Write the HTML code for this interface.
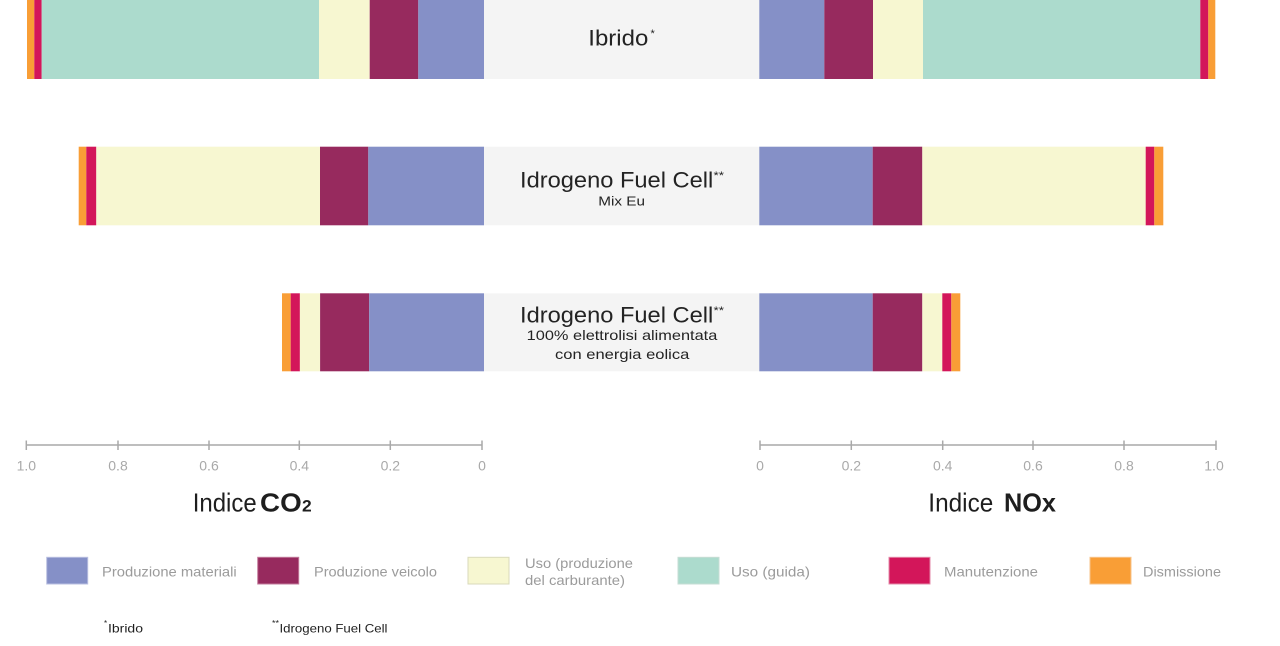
<!DOCTYPE html>
<html>
<head>
<meta charset="utf-8">
<style>
  html, body { margin:0; padding:0; background:#ffffff; }
  body { width:1280px; height:646px; overflow:hidden; }
  svg { display:block; }
  text { font-family: "Liberation Sans", "DejaVu Sans", sans-serif; }
</style>
</head>
<body>
<svg width="1280" height="646" viewBox="0 0 1280 646" xmlns="http://www.w3.org/2000/svg">
  <rect x="0" y="0" width="1280" height="646" fill="#ffffff"/>

  <!-- ===== Bar 1: Ibrido ===== -->
  <g>
    <rect x="484" y="0" width="275.5" height="79" fill="#f4f4f4"/>
    <!-- left -->
    <rect x="27" y="0" width="7.3" height="79" fill="#f99e36"/>
    <rect x="34.3" y="0" width="7.4" height="79" fill="#d3165a"/>
    <rect x="41.7" y="0" width="277.3" height="79" fill="#acdbcd"/>
    <rect x="319" y="0" width="50.7" height="79" fill="#f7f7d1"/>
    <rect x="369.7" y="0" width="48.6" height="79" fill="#972a5e"/>
    <rect x="418.3" y="0" width="65.7" height="79" fill="#8590c7"/>
    <!-- right -->
    <rect x="759.3" y="0" width="65" height="79" fill="#8590c7"/>
    <rect x="824.3" y="0" width="48.7" height="79" fill="#972a5e"/>
    <rect x="873" y="0" width="50" height="79" fill="#f7f7d1"/>
    <rect x="923" y="0" width="277.3" height="79" fill="#acdbcd"/>
    <rect x="1200.3" y="0" width="8" height="79" fill="#d3165a"/>
    <rect x="1208.3" y="0" width="7" height="79" fill="#f99e36"/>
    <text x="588.3" y="45.7" font-size="22" fill="#232323" textLength="60" lengthAdjust="spacingAndGlyphs">Ibrido</text>
    <text x="650.5" y="37" font-size="11" fill="#232323">*</text>
  </g>

  <!-- ===== Bar 2: Idrogeno Fuel Cell Mix Eu ===== -->
  <g>
    <rect x="484" y="146.7" width="275.5" height="78.6" fill="#f4f4f4"/>
    <!-- left -->
    <rect x="78.7" y="146.7" width="7.6" height="78.6" fill="#f99e36"/>
    <rect x="86.3" y="146.7" width="10" height="78.6" fill="#d3165a"/>
    <rect x="96.3" y="146.7" width="223.7" height="78.6" fill="#f7f7d1"/>
    <rect x="320" y="146.7" width="48.3" height="78.6" fill="#972a5e"/>
    <rect x="368.3" y="146.7" width="115.7" height="78.6" fill="#8590c7"/>
    <!-- right -->
    <rect x="759.3" y="146.7" width="113.4" height="78.6" fill="#8590c7"/>
    <rect x="872.7" y="146.7" width="49.6" height="78.6" fill="#972a5e"/>
    <rect x="922.3" y="146.7" width="223.4" height="78.6" fill="#f7f7d1"/>
    <rect x="1145.7" y="146.7" width="8.6" height="78.6" fill="#d3165a"/>
    <rect x="1154.3" y="146.7" width="9" height="78.6" fill="#f99e36"/>
    <text x="520" y="187.7" font-size="22" fill="#232323" textLength="193.3" lengthAdjust="spacingAndGlyphs">Idrogeno Fuel Cell</text>
    <text x="713.5" y="179" font-size="11" fill="#232323" textLength="10.5" lengthAdjust="spacingAndGlyphs">**</text>
    <text x="598.3" y="205.7" font-size="13" fill="#232323" textLength="46.7" lengthAdjust="spacingAndGlyphs">Mix Eu</text>
  </g>

  <!-- ===== Bar 3: Idrogeno Fuel Cell 100% eolica ===== -->
  <g>
    <rect x="484" y="293.3" width="275.5" height="78" fill="#f4f4f4"/>
    <!-- left -->
    <rect x="282" y="293.3" width="8.7" height="78" fill="#f99e36"/>
    <rect x="290.7" y="293.3" width="9.2" height="78" fill="#d3165a"/>
    <rect x="299.9" y="293.3" width="20.2" height="78" fill="#f7f7d1"/>
    <rect x="320.1" y="293.3" width="49.1" height="78" fill="#972a5e"/>
    <rect x="369.2" y="293.3" width="114.8" height="78" fill="#8590c7"/>
    <!-- right -->
    <rect x="759.3" y="293.3" width="113.4" height="78" fill="#8590c7"/>
    <rect x="872.7" y="293.3" width="49.6" height="78" fill="#972a5e"/>
    <rect x="922.3" y="293.3" width="20" height="78" fill="#f7f7d1"/>
    <rect x="942.3" y="293.3" width="9" height="78" fill="#d3165a"/>
    <rect x="951.3" y="293.3" width="9" height="78" fill="#f99e36"/>
    <text x="520" y="322.7" font-size="22" fill="#232323" textLength="193.3" lengthAdjust="spacingAndGlyphs">Idrogeno Fuel Cell</text>
    <text x="713.5" y="314" font-size="11" fill="#232323" textLength="10.5" lengthAdjust="spacingAndGlyphs">**</text>
    <text x="526.7" y="340" font-size="14" fill="#232323" textLength="190.6" lengthAdjust="spacingAndGlyphs">100% elettrolisi alimentata</text>
    <text x="555" y="359" font-size="14" fill="#232323" textLength="134.3" lengthAdjust="spacingAndGlyphs">con energia eolica</text>
  </g>

  <!-- ===== Left axis (CO2) ===== -->
  <g stroke="#a9a9a9" stroke-width="1.5" fill="none">
    <line x1="26.3" y1="445" x2="482" y2="445"/>
    <line x1="26.3" y1="440.5" x2="26.3" y2="450"/>
    <line x1="118" y1="440.5" x2="118" y2="450"/>
    <line x1="209" y1="440.5" x2="209" y2="450"/>
    <line x1="299.3" y1="440.5" x2="299.3" y2="450"/>
    <line x1="390.3" y1="440.5" x2="390.3" y2="450"/>
    <line x1="482" y1="440.5" x2="482" y2="450"/>
  </g>
  <g font-size="14" fill="#a9a9a9" text-anchor="middle">
    <text x="26.3" y="470.7">1.0</text>
    <text x="118" y="470.7">0.8</text>
    <text x="209" y="470.7">0.6</text>
    <text x="299.3" y="470.7">0.4</text>
    <text x="390.3" y="470.7">0.2</text>
    <text x="482" y="470.7">0</text>
  </g>
  <text x="192.7" y="511.7" font-size="26" fill="#1e1e1e" textLength="64" lengthAdjust="spacingAndGlyphs">Indice</text>
  <text x="260" y="511.7" font-size="26" font-weight="bold" fill="#1e1e1e" textLength="41.7" lengthAdjust="spacingAndGlyphs">CO</text>
  <text x="302" y="511.7" font-size="17" font-weight="bold" fill="#1e1e1e" textLength="9.7" lengthAdjust="spacingAndGlyphs">2</text>

  <!-- ===== Right axis (NOx) ===== -->
  <g stroke="#a9a9a9" stroke-width="1.5" fill="none">
    <line x1="760" y1="445" x2="1216" y2="445"/>
    <line x1="760" y1="440.5" x2="760" y2="450"/>
    <line x1="851.3" y1="440.5" x2="851.3" y2="450"/>
    <line x1="942.7" y1="440.5" x2="942.7" y2="450"/>
    <line x1="1033" y1="440.5" x2="1033" y2="450"/>
    <line x1="1124" y1="440.5" x2="1124" y2="450"/>
    <line x1="1216" y1="440.5" x2="1216" y2="450"/>
  </g>
  <g font-size="14" fill="#a9a9a9" text-anchor="middle">
    <text x="760" y="470.7">0</text>
    <text x="851.3" y="470.7">0.2</text>
    <text x="942.7" y="470.7">0.4</text>
    <text x="1033" y="470.7">0.6</text>
    <text x="1124" y="470.7">0.8</text>
    <text x="1214" y="470.7">1.0</text>
  </g>
  <text x="928.3" y="511.7" font-size="26" fill="#1e1e1e" textLength="65" lengthAdjust="spacingAndGlyphs">Indice</text>
  <text x="1004" y="511.7" font-size="26" font-weight="bold" fill="#1e1e1e" textLength="52" lengthAdjust="spacingAndGlyphs">NOx</text>

  <!-- ===== Legend ===== -->
  <g stroke-width="1">
    <rect x="46.7" y="557.3" width="41" height="26.7" fill="#8590c7" stroke="#b9bfe0"/>
    <rect x="257.7" y="557.3" width="41" height="26.7" fill="#972a5e" stroke="#c27a9b"/>
    <rect x="468" y="557.3" width="41" height="26.7" fill="#f7f7d1" stroke="#d9dabb"/>
    <rect x="678" y="557.3" width="41" height="26.7" fill="#acdbcd" stroke="#c6dcd4"/>
    <rect x="889" y="557.3" width="41" height="26.7" fill="#d3165a" stroke="#e38aa8"/>
    <rect x="1090" y="557.3" width="41" height="26.7" fill="#f99e36" stroke="#f7c38a"/>
  </g>
  <g font-size="14" fill="#9b9b9b">
    <text x="102" y="576.7" textLength="134.7" lengthAdjust="spacingAndGlyphs">Produzione materiali</text>
    <text x="314" y="576.7" textLength="123" lengthAdjust="spacingAndGlyphs">Produzione veicolo</text>
    <text x="525" y="568" textLength="108" lengthAdjust="spacingAndGlyphs">Uso (produzione</text>
    <text x="525" y="585" textLength="100" lengthAdjust="spacingAndGlyphs">del carburante)</text>
    <text x="731" y="576.7" textLength="79" lengthAdjust="spacingAndGlyphs">Uso (guida)</text>
    <text x="944" y="576.7" textLength="94" lengthAdjust="spacingAndGlyphs">Manutenzione</text>
    <text x="1143" y="576.7" textLength="78" lengthAdjust="spacingAndGlyphs">Dismissione</text>
  </g>

  <!-- ===== Footnotes ===== -->
  <g font-size="12" fill="#1e1e1e">
    <text x="104" y="626" font-size="8">*</text>
    <text x="108" y="632.3" textLength="35" lengthAdjust="spacingAndGlyphs">Ibrido</text>
    <text x="272" y="626" font-size="8" textLength="7" lengthAdjust="spacingAndGlyphs">**</text>
    <text x="279.5" y="632.3" textLength="108" lengthAdjust="spacingAndGlyphs">Idrogeno Fuel Cell</text>
  </g>
</svg>
</body>
</html>
